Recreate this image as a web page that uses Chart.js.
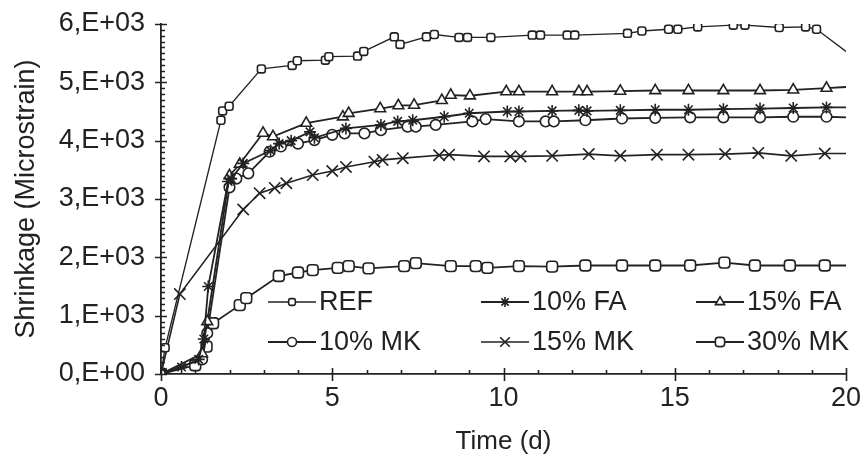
<!DOCTYPE html>
<html>
<head>
<meta charset="utf-8">
<script src="https://cdn.jsdelivr.net/npm/chart.js@4/dist/chart.umd.min.js"></script>
<style>
  html, body { margin: 0; padding: 0; background: #ffffff; }
  #wrap { width: 861px; height: 461px; }
</style>
</head>
<body>
<div id="wrap"><canvas id="c" width="861" height="461"></canvas></div>
<script>
// Drying shrinkage over time for each mix (days, microstrain)
const seriesLabels = ['REF', '10% FA', '15% FA', '10% MK', '15% MK', '30% MK'];

const refDays   = [0, 0.12, 1.75, 1.8, 1.99, 2.93, 3.83, 3.98, 4.8, 4.9, 5.74, 5.92, 6.81, 6.98, 7.75, 7.98, 8.7, 8.95, 9.63, 10.84, 11.08, 11.86, 12.08, 13.62, 14.04, 14.82, 15.09, 15.67, 16.71, 17.05, 18.05, 18.82, 19.14, 20];
const refStrain = [0, 450, 4350, 4510, 4590, 5230, 5290, 5370, 5380, 5440, 5450, 5530, 5780, 5650, 5780, 5820, 5770, 5770, 5770, 5810, 5810, 5810, 5810, 5840, 5880, 5910, 5910, 5950, 5980, 5980, 5940, 5950, 5910, 5530];

const fa10Days   = [0, 0.6, 1.1, 1.25, 1.38, 1.96, 2.05, 2.4, 3.2, 3.45, 3.8, 4.35, 4.48, 5.4, 6.42, 6.91, 7.35, 8.27, 9.0, 10.11, 10.45, 11.42, 12.2, 12.44, 13.41, 14.43, 15.4, 16.42, 17.49, 18.46, 19.43, 20];
const fa10Strain = [0, 120, 250, 600, 1500, 3300, 3350, 3610, 3830, 3950, 4000, 4150, 4050, 4210, 4270, 4330, 4350, 4410, 4470, 4500, 4500, 4510, 4520, 4510, 4520, 4530, 4530, 4540, 4550, 4560, 4570, 4570];

const fa15Days   = [0, 1.2, 1.35, 2.0, 2.3, 2.98, 3.27, 4.24, 5.31, 5.48, 6.4, 6.93, 7.39, 8.2, 8.46, 9.02, 10.08, 10.45, 11.42, 12.2, 12.44, 13.41, 14.43, 15.4, 16.42, 17.49, 18.46, 19.43, 20];
const fa15Strain = [0, 350, 900, 3400, 3600, 4130, 4070, 4300, 4410, 4470, 4550, 4600, 4610, 4690, 4780, 4770, 4840, 4840, 4840, 4840, 4840, 4850, 4860, 4860, 4860, 4860, 4870, 4900, 4920];

const mk10Days   = [0, 1.2, 1.35, 2.0, 2.2, 2.55, 3.17, 3.5, 4.0, 4.48, 5.0, 5.36, 5.94, 6.42, 7.2, 7.44, 8.02, 9.09, 9.48, 10.45, 11.23, 11.47, 12.39, 13.46, 14.43, 15.45, 16.42, 17.49, 18.46, 19.43, 20];
const mk10Strain = [0, 250, 700, 3200, 3350, 3440, 3810, 3900, 3950, 4010, 4100, 4125, 4125, 4180, 4240, 4240, 4270, 4330, 4370, 4330, 4330, 4330, 4350, 4380, 4390, 4400, 4400, 4400, 4410, 4410, 4400];

const mk15Days   = [0, 0.55, 2.4, 2.88, 3.32, 3.66, 4.43, 5.0, 5.4, 6.23, 6.47, 7.06, 8.12, 8.41, 9.43, 10.2, 10.5, 11.42, 12.49, 13.41, 14.48, 15.4, 16.47, 17.44, 18.4, 19.38, 20];
const mk15Strain = [0, 1370, 2820, 3100, 3190, 3270, 3410, 3480, 3550, 3640, 3670, 3700, 3750, 3760, 3730, 3730, 3730, 3740, 3770, 3740, 3760, 3760, 3770, 3790, 3740, 3780, 3780];

const mk30Days   = [0, 1.0, 1.33, 1.52, 2.3, 2.49, 3.44, 4.0, 4.43, 5.16, 5.48, 6.06, 7.1, 7.44, 8.46, 9.19, 9.53, 10.45, 11.42, 12.39, 13.46, 14.43, 15.45, 16.45, 17.34, 18.36, 19.38, 20];
const mk30Strain = [0, 150, 470, 870, 1180, 1300, 1680, 1740, 1780, 1820, 1850, 1810, 1850, 1900, 1850, 1850, 1820, 1850, 1840, 1860, 1860, 1860, 1860, 1910, 1860, 1860, 1860, 1860];

const xTickStep = 5;
const yTickStep = 1000;

const INK = '#222222';
const FONT = '"Liberation Sans", Arial, sans-serif';

function pairs(xs, ys) {
  return xs.map((x, i) => ({ x: x, y: ys[i] }));
}

// marker shape and size per series
const markerStyles = [
  { style: 'rectRounded', radius: 4.6, line: 1.3 },
  { style: 'star',        radius: 6,   line: 1.8 },
  { style: 'triangle',    radius: 6.2, line: 1.8 },
  { style: 'circle',      radius: 5.3, line: 1.8 },
  { style: 'crossRot',    radius: 8,   line: 1.6 },
  { style: 'rectRounded', radius: 6.3, line: 1.8 }
];

const rawSeries = [
  [refDays, refStrain], [fa10Days, fa10Strain], [fa15Days, fa15Strain],
  [mk10Days, mk10Strain], [mk15Days, mk15Strain], [mk30Days, mk30Strain]
];

const datasets = rawSeries.map((s, i) => {
  const m = markerStyles[i];
  const n = s[0].length;
  return {
    label: seriesLabels[i],
    data: pairs(s[0], s[1]),
    borderColor: INK,
    backgroundColor: '#ffffff',
    borderWidth: m.line,
    pointStyle: m.style,
    pointRadius: ctx => (ctx.dataIndex === n - 1 ? 0 : m.radius),
    pointBorderWidth: 1.6,
    pointBorderColor: INK,
    pointBackgroundColor: '#ffffff',
    tension: 0,
    fill: false
  };
});

// tick marks on both axes: long marks at labelled values, short marks between
const axisTicks = {
  id: 'axisTicks',
  afterDatasetsDraw(chart) {
    const { ctx, chartArea, scales } = chart;
    const xs = scales.x, ys = scales.y;
    ctx.save();
    ctx.strokeStyle = INK;
    ctx.lineWidth = 1.6;
    ctx.beginPath();
    for (let v = 0; v <= 20; v += 1) {
      const px = Math.round(xs.getPixelForValue(v)) + 0.5;
      const major = v % xTickStep === 0;
      ctx.moveTo(px, chartArea.bottom - (major ? 6 : 4));
      ctx.lineTo(px, chartArea.bottom + (major ? 7 : 0));
    }
    for (let v = 0; v <= 6000; v += 100) {
      const py = Math.round(ys.getPixelForValue(v)) + 0.5;
      const major = v % yTickStep === 0;
      ctx.moveTo(chartArea.left - (major ? 6 : 1), py);
      ctx.lineTo(chartArea.left + (major ? 6 : 4), py);
    }
    ctx.stroke();
    ctx.restore();
  }
};

// three-column key drawn inside the plot area
const insetKey = {
  id: 'insetKey',
  afterDraw(chart) {
    const { ctx, chartArea } = chart;
    const colX = [107, 320, 535];
    const rowY = [278, 318];
    const sampleLen = 48;
    ctx.save();
    ctx.font = '27px ' + FONT;
    ctx.textBaseline = 'middle';
    ctx.textAlign = 'left';
    chart.data.datasets.forEach((ds, i) => {
      const m = markerStyles[i];
      const x0 = chartArea.left + colX[i % 3];
      const y0 = chartArea.top + rowY[Math.floor(i / 3)];
      ctx.strokeStyle = INK;
      ctx.lineWidth = m.line;
      ctx.beginPath();
      ctx.moveTo(x0, y0);
      ctx.lineTo(x0 + sampleLen, y0);
      ctx.stroke();
      ctx.fillStyle = '#ffffff';
      ctx.lineWidth = 1.6;
      Chart.helpers.drawPoint(ctx, { pointStyle: m.style, radius: m.radius * 0.85, rotation: 0, borderWidth: 1.6 }, x0 + sampleLen / 2, y0);
      ctx.fillStyle = INK;
      ctx.fillText(ds.label, x0 + sampleLen + 3, y0 + 1);
    });
    ctx.restore();
  }
};

new Chart(document.getElementById('c'), {
  type: 'line',
  data: { datasets: datasets },
  options: {
    responsive: false,
    animation: false,
    devicePixelRatio: 1,
    layout: { padding: { top: 24, right: 15, left: 0, bottom: 0 } },
    plugins: {
      legend: { display: false },
      tooltip: { enabled: false }
    },
    scales: {
      x: {
        type: 'linear',
        min: 0,
        max: 20,
        grid: { display: false, drawTicks: false },
        border: { display: true, color: INK, width: 1.8 },
        ticks: {
          stepSize: xTickStep,
          color: INK,
          padding: 8,
          maxRotation: 0,
          font: { family: FONT, size: 27 }
        },
        title: {
          display: true,
          text: 'Time (d)',
          color: INK,
          font: { family: FONT, size: 26 },
          padding: { top: 0, bottom: 4 }
        },
        afterFit(scale) {
          scale.height = 87;
          scale.paddingLeft = 0;
          scale.paddingRight = 0;
        }
      },
      y: {
        type: 'linear',
        min: 0,
        max: 6000,
        grid: { display: false, drawTicks: false },
        border: { display: true, color: INK, width: 1.8 },
        ticks: {
          stepSize: yTickStep,
          color: INK,
          padding: 16,
          font: { family: FONT, size: 27 },
          callback: v => (v === 0 ? '0,E+00' : (v / 1000) + ',E+03')
        },
        title: {
          display: true,
          text: 'Shrinkage (Microstrain)',
          color: INK,
          font: { family: FONT, size: 27 },
          padding: { top: 10, bottom: 0 }
        },
        afterFit(scale) {
          scale.width = 161;
          scale.paddingTop = 0;
          scale.paddingBottom = 0;
        }
      }
    }
  },
  plugins: [axisTicks, insetKey]
});
</script>
</body>
</html>
